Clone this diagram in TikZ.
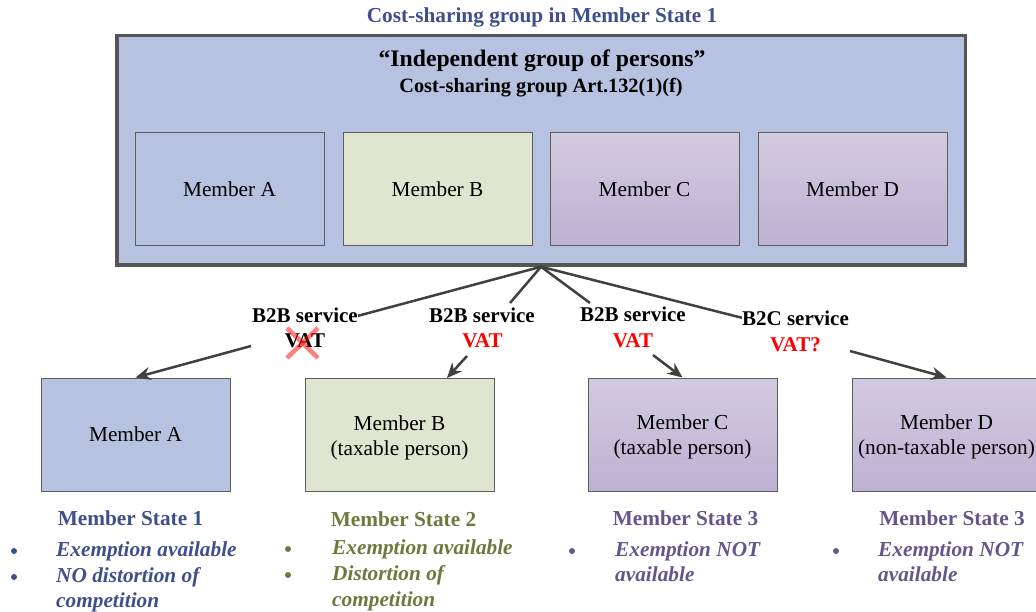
\documentclass[tikz,border=0pt]{standalone}
\usepackage{fontspec}
\setmainfont{Liberation Serif}
\usetikzlibrary{arrows.meta}
\definecolor{outerfill}{HTML}{B7C1E0}
\definecolor{bfill}{HTML}{E0E5CF}
\definecolor{ctop}{HTML}{D2CAE1}
\definecolor{cbot}{HTML}{BDB2D2}
\definecolor{framegray}{HTML}{555555}
\definecolor{boxgray}{HTML}{5C5C5C}
\definecolor{linegray}{HTML}{404040}
\definecolor{msblue}{HTML}{3F4F8C}
\definecolor{msolive}{HTML}{6A7A3C}
\definecolor{mspurple}{HTML}{65558E}
\definecolor{vatred}{HTML}{FF0000}
\begin{document}
\begin{tikzpicture}[x=1pt,y=-1pt,
  txt/.style={font=\fontsize{21.3}{25}\selectfont},
  memberbox/.style={draw=boxgray,line width=1pt,minimum width=189pt,minimum height=113pt,inner sep=0pt,align=center,txt},
  afill/.style={fill=outerfill},
  bbfill/.style={fill=bfill},
  cfill/.style={top color=ctop,bottom color=cbot},
  svc/.style={font=\bfseries\fontsize{21}{25}\selectfont,inner sep=0pt,anchor=base},
  vat/.style={svc,text=vatred},
  conn/.style={draw=linegray,line width=2.5pt},
  arr/.style={conn,-{Stealth[length=15pt,width=13pt]}},
  head/.style={font=\bfseries\fontsize{21.3}{25}\selectfont,inner sep=0pt,anchor=base},
  item/.style={font=\bfseries\itshape\fontsize{21.3}{25}\selectfont,inner sep=0pt,anchor=base west},
  bul/.style={circle,inner sep=0pt,minimum size=6pt}
]
\useasboundingbox (0,0) rectangle (1036,612);
\clip (0,0) rectangle (1036,612);

% title
\node[font=\bfseries\fontsize{21.3}{25}\selectfont,text=msblue,inner sep=0pt,anchor=base] (title) at (542,23) {Cost-sharing group in Member State 1};

% outer group box
\node[draw=framegray,line width=3.5pt,fill=outerfill,minimum width=848.5pt,minimum height=229.5pt,inner sep=0pt] (outer) at (541,150.25) {};
\node[font=\bfseries\fontsize{23.7}{27}\selectfont,inner sep=0pt,anchor=base] (indep) at (542,67) {“Independent group of persons”};
\node[font=\bfseries\fontsize{20.3}{24}\selectfont,inner sep=0pt,anchor=base] (art) at (541,93) {Cost-sharing group Art.132(1)(f)};

% inner member boxes
\node[memberbox,afill] (iA) at (229.5,189.5) {Member A};
\node[memberbox,bbfill] (iB) at (437.5,189.5) {Member B};
\node[memberbox,cfill] (iC) at (644.5,189.5) {Member C};
\node[memberbox,cfill] (iD) at (852.5,189.5) {Member D};

% bottom member boxes
\node[memberbox,afill] (mA) at (135.5,434.5) {Member A};
\node[memberbox,bbfill,text depth=3pt] (mB) at (399.5,434.5) {\rule{0pt}{19pt}Member B\\(taxable person)};
\node[memberbox,cfill] (mC) at (682.5,434.5) {\rule{0pt}{19pt}Member C\\(taxable person)};
\node[memberbox,cfill] (mD) at (946.5,434.5) {\rule{0pt}{19pt}Member D\\(non-taxable person)};

% service labels
\node[svc] (l1) at (305,323) {B2B service};
\node[svc] (v1) at (305,348) {VAT};
\node[svc] (l2) at (482,323) {B2B service};
\node[vat] (v2) at (482.5,348) {VAT};
\node[svc] (l3) at (633,322) {B2B service};
\node[vat] (v3) at (633,348) {VAT};
\node[svc] (l4) at (795.5,325) {B2C service};
\node[vat] (v4) at (795.5,352) {VAT?};

% cross over VAT
\draw[vatred,opacity=0.5,line width=4.5pt] (287,328) -- (318,358);
\draw[vatred,opacity=0.5,line width=4.5pt] (318,328) -- (287,358);

% connector points
\coordinate (e2) at (510,303);
\coordinate (e3) at (590,303);
\coordinate (s1) at (251,346);
\coordinate (s2) at (467,356);
\coordinate (s3) at (653,355);
\coordinate (s4) at (850,351);
\coordinate (t2) at (447,378);

% connectors from the group
\draw[conn] (outer.south) -- (l1.east);
\draw[conn] (outer.south) -- (e2);
\draw[conn] (outer.south) -- (e3);
\draw[conn] (outer.south) -- (l4.west);

% arrows to members
\draw[arr] (s1) -- (mA.north);
\draw[arr] (s2) -- (t2);
\draw[arr] (s3) -- (mC.north);
\draw[arr] (s4) -- (mD.north);

% Member State 1
\node[head,text=msblue] (h1) at (130.5,525) {Member State 1};
\node[bul,fill=msblue] (b11) at (14,551) {};
\node[bul,fill=msblue] (b12) at (14,577) {};
\node[item,text=msblue] (i11) at (56,556) {Exemption available};
\node[item,text=msblue] (i12) at (56,582) {NO distortion of};
\node[item,text=msblue] (i13) at (56,607) {competition};

% Member State 2
\node[head,text=msolive] (h2) at (403.5,526) {Member State 2};
\node[bul,fill=msolive] (b21) at (288,549) {};
\node[bul,fill=msolive] (b22) at (288,575) {};
\node[item,text=msolive] (i21) at (332,554) {Exemption available};
\node[item,text=msolive] (i22) at (332,580) {Distortion of};
\node[item,text=msolive] (i23) at (332,606) {competition};

% Member State 3 (C)
\node[head,text=mspurple] (h3) at (685.5,525) {Member State 3};
\node[bul,fill=mspurple] (b31) at (572,551) {};
\node[item,text=mspurple] (i31) at (615,556) {Exemption NOT};
\node[item,text=mspurple] (i32) at (615,581) {available};

% Member State 3 (D)
\node[head,text=mspurple] (h4) at (952,525) {Member State 3};
\node[bul,fill=mspurple] (b41) at (836,551) {};
\node[item,text=mspurple] (i41) at (878,556) {Exemption NOT};
\node[item,text=mspurple] (i42) at (878,581) {available};
\end{tikzpicture}
\end{document}
